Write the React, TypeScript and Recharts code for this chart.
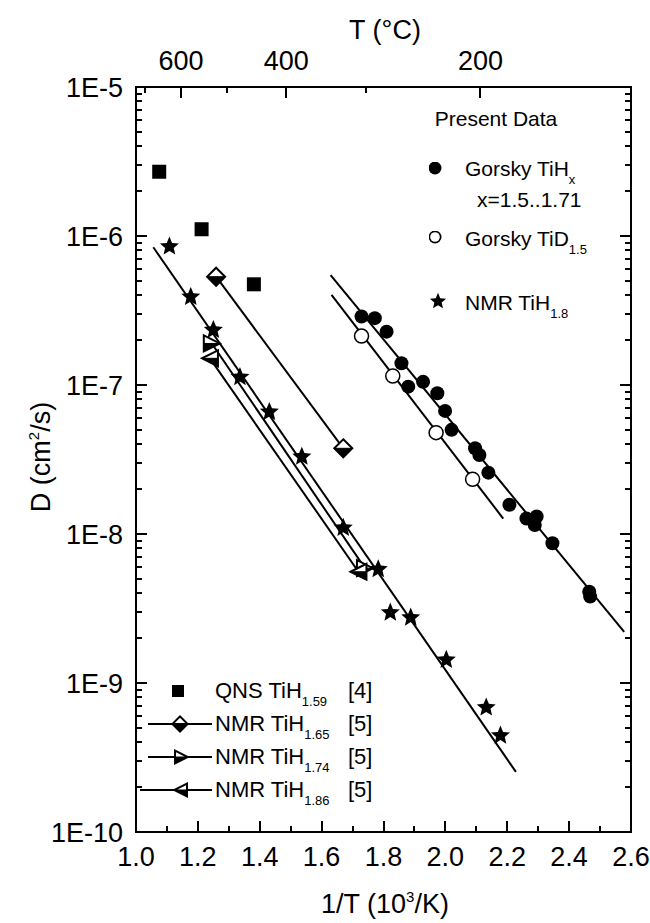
import React from 'react';
import { ScatterChart, Scatter, XAxis, YAxis } from 'recharts';

// ---- data ----
// QNS TiH1.59 [4]
const qnsX = [1.075, 1.212, 1.381];
const qnsD = [2.7e-6, 1.11e-6, 4.74e-7];

// NMR TiH1.8 (present data)
const nmr18X = [1.108, 1.177, 1.25, 1.336, 1.431, 1.536, 1.67, 1.783, 1.822, 1.888, 2.003, 2.132, 2.178];
const nmr18D = [8.5e-7, 3.9e-7, 2.34e-7, 1.13e-7, 6.6e-8, 3.3e-8, 1.1e-8, 5.8e-9, 2.97e-9, 2.75e-9, 1.43e-9, 6.85e-10, 4.44e-10];
const nmr18FitX = [1.056, 2.228];
const nmr18FitD = [8.4e-7, 2.53e-10];

// NMR [5]
const nmr165X = [1.259, 1.67];
const nmr165D = [5.33e-7, 3.76e-8];
const nmr174X = [1.245, 1.74];
const nmr174D = [1.9e-7, 5.9e-9];
const nmr186X = [1.239, 1.719];
const nmr186D = [1.51e-7, 5.58e-9];

// Gorsky TiHx, x=1.5..1.71
const tihX = [1.729, 1.772, 1.81, 1.858, 1.88, 1.928, 1.974, 1.999, 2.02, 2.096, 2.11, 2.139, 2.207, 2.262, 2.295, 2.289, 2.346, 2.465, 2.468];
const tihD = [2.88e-7, 2.81e-7, 2.28e-7, 1.4e-7, 9.75e-8, 1.05e-7, 8.8e-8, 6.7e-8, 5.0e-8, 3.76e-8, 3.39e-8, 2.58e-8, 1.57e-8, 1.27e-8, 1.31e-8, 1.15e-8, 8.67e-9, 4.1e-9, 3.8e-9];
const tihFitX = [1.629, 2.578];
const tihFitD = [5.47e-7, 2.2e-9];

// Gorsky TiD1.5
const tidX = [1.729, 1.83, 1.97, 2.088];
const tidD = [2.13e-7, 1.15e-7, 4.79e-8, 2.33e-8];
const tidFitX = [1.632, 2.187];
const tidFitD = [4.02e-7, 1.27e-8];

// axes
const xTicks = [1.0, 1.1, 1.2, 1.3, 1.4, 1.5, 1.6, 1.7, 1.8, 1.9, 2.0, 2.1, 2.2, 2.3, 2.4, 2.5, 2.6];
const tempTicksC = [700, 600, 500, 400, 300, 200];
const tempLabelsC = [600, 400, 200];
const decades = [-10, -9, -8, -7, -6, -5];
const yTickLabels = ['1E-10', '1E-9', '1E-8', '1E-7', '1E-6', '1E-5'];
const mantissas = [1, 2, 3, 4, 5, 6, 7, 8, 9];

const yTicks: number[] = [];
decades.forEach((e, i) => {
  if (i === decades.length - 1) yTicks.push(Math.pow(10, e));
  else mantissas.forEach((m) => yTicks.push(m * Math.pow(10, e)));
});
const topTicks = tempTicksC.map((t) => 1000 / (t + 273.15));

const pts = (xs: number[], ds: number[]) => xs.map((x, i) => ({ x, d: ds[i] }));

// layout
const W = 650;
const H = 923;
const MARGIN = { top: 47, right: 9, bottom: 51, left: 56 };
const PLOT_LEFT = 136;
const PLOT_RIGHT = 631;
const PLOT_TOP = 87;
const PLOT_BOTTOM = 832;
const FONT = '"Liberation Sans", Arial, Helvetica, sans-serif';
const TICK_FONT = 27;

const isDecade = (v: number) => {
  const l = Math.log10(v);
  return Math.abs(l - Math.round(l)) < 1e-6;
};

// same mapping as the chart's axes, for the html frame ticks
const xPx = (v: number) => PLOT_LEFT + ((v - 1.0) / 1.6) * (PLOT_RIGHT - PLOT_LEFT);
const yPx = (v: number) => PLOT_TOP + ((-5 - Math.log10(v)) / 5) * (PLOT_BOTTOM - PLOT_TOP);

// ---- chart markers (svg) ----
const starPoints = (cx: number, cy: number, R: number, r: number) => {
  const p: string[] = [];
  for (let i = 0; i < 10; i++) {
    const a = (-90 + i * 36) * (Math.PI / 180);
    const rad = i % 2 === 0 ? R : r;
    p.push(`${cx + rad * Math.cos(a)},${cy + rad * Math.sin(a)}`);
  }
  return p.join(' ');
};

const NoShape = () => <g />;
const StarShape = (p: any) => <polygon points={starPoints(p.cx, p.cy, 10, 4.5)} fill="#000" />;
const SquareShape = (p: any) => <rect x={p.cx - 7} y={p.cy - 7} width={14} height={14} fill="#000" />;
const DotShape = (p: any) => <circle cx={p.cx} cy={p.cy} r={7} fill="#000" />;
const OpenDotShape = (p: any) => <circle cx={p.cx} cy={p.cy} r={7} fill="#fff" stroke="#000" strokeWidth={1.5} />;
const DiamondShape = ({ cx, cy }: any) => {
  const s = 9;
  return (
    <g>
      <polygon points={`${cx},${cy - s} ${cx + s},${cy} ${cx},${cy + s} ${cx - s},${cy}`} fill="#fff" stroke="#000" strokeWidth={2} />
      <polygon points={`${cx - s},${cy} ${cx + s},${cy} ${cx},${cy + s}`} fill="#000" stroke="#000" strokeWidth={1} />
    </g>
  );
};
const TriRightShape = ({ cx, cy }: any) => {
  const s = 8;
  return (
    <g>
      <polygon points={`${cx - s},${cy - s} ${cx + s},${cy} ${cx - s},${cy + s}`} fill="#fff" stroke="#000" strokeWidth={2} />
      <polygon points={`${cx - s},${cy} ${cx + s},${cy} ${cx - s},${cy + s}`} fill="#000" stroke="#000" strokeWidth={1} />
    </g>
  );
};
const TriLeftShape = ({ cx, cy }: any) => {
  const s = 8;
  return (
    <g>
      <polygon points={`${cx + s},${cy - s} ${cx - s},${cy} ${cx + s},${cy + s}`} fill="#fff" stroke="#000" strokeWidth={2} />
      <polygon points={`${cx + s},${cy} ${cx - s},${cy} ${cx + s},${cy + s}`} fill="#000" stroke="#000" strokeWidth={1} />
    </g>
  );
};

// ---- tick labels from the axes ----
const LeftTick = (p: any) => {
  if (!isDecade(p.payload.value)) return <g />;
  const idx = decades.indexOf(Math.round(Math.log10(p.payload.value)));
  return (
    <text x={123} y={p.y + 10} textAnchor="end" fontSize={TICK_FONT} fontFamily={FONT} fill="#000">
      {yTickLabels[idx]}
    </text>
  );
};

const BottomTick = (p: any) => {
  if (Math.round(p.payload.value * 10) % 2 !== 0) return <g />;
  return (
    <text x={p.x} y={866} textAnchor="middle" fontSize={TICK_FONT} fontFamily={FONT} fill="#000">
      {p.payload.value.toFixed(1)}
    </text>
  );
};

const TopTick = (p: any) => {
  const t = Math.round(1000 / p.payload.value - 273.15);
  if (!tempLabelsC.includes(t)) return <g />;
  return (
    <text x={p.x} y={70} textAnchor="middle" fontSize={TICK_FONT} fontFamily={FONT} fill="#000">
      {t}
    </text>
  );
};

const fitLine = { stroke: '#000', strokeWidth: 2 };

// ---- html overlay: frame, tick marks, titles and legends ----
const Bar = ({ left, top, width, height }: any) => (
  <div style={{ position: 'absolute', left, top, width, height, background: '#000' }} />
);

const Frame = () => (
  <div style={{ position: 'absolute', left: 0, top: 0, width: W, height: H, pointerEvents: 'none' }}>
    <div
      style={{
        position: 'absolute',
        left: PLOT_LEFT - 1,
        top: PLOT_TOP - 1,
        width: PLOT_RIGHT - PLOT_LEFT + 2,
        height: PLOT_BOTTOM - PLOT_TOP + 2,
        border: '2px solid #000',
        boxSizing: 'border-box',
      }}
    />
    {yTicks.map((v) => {
      const len = isDecade(v) ? 11 : 6;
      const y = yPx(v);
      return (
        <React.Fragment key={`y${v}`}>
          <Bar left={PLOT_LEFT} top={y - 1} width={len} height={2} />
          <Bar left={PLOT_RIGHT - len} top={y - 1} width={len} height={2} />
        </React.Fragment>
      );
    })}
    {xTicks.map((v) => {
      const len = Math.round(v * 10) % 2 === 0 ? 11 : 6;
      return <Bar key={`x${v}`} left={xPx(v) - 1} top={PLOT_BOTTOM - len} width={2} height={len} />;
    })}
    {topTicks.map((v, i) => {
      const len = tempLabelsC.includes(tempTicksC[i]) ? 11 : 6;
      return <Bar key={`t${v}`} left={xPx(v) - 1} top={PLOT_TOP} width={2} height={len} />;
    })}
  </div>
);

const Txt = ({ x, y, size, anchor, rotate, children }: any) => {
  const base: React.CSSProperties = {
    position: 'absolute',
    fontFamily: FONT,
    fontSize: size,
    lineHeight: `${size}px`,
    whiteSpace: 'nowrap',
    color: '#000',
  };
  if (rotate) {
    return (
      <div style={{ ...base, left: x, top: y, transform: 'translate(-50%, -50%) rotate(-90deg)' }}>{children}</div>
    );
  }
  return (
    <div
      style={{
        ...base,
        left: x,
        top: y - 0.8465 * size,
        transform: anchor === 'middle' ? 'translateX(-50%)' : undefined,
      }}
    >
      {children}
    </div>
  );
};

const Sub = ({ children }: any) => (
  <span style={{ fontSize: 13, position: 'relative', top: 8, lineHeight: 0 }}>{children}</span>
);
const Sup = ({ children }: any) => (
  <span style={{ fontSize: 15, position: 'relative', top: -11, lineHeight: 0 }}>{children}</span>
);

const Mark = ({ x, y, w, h, clip, children }: any) => (
  <div style={{ position: 'absolute', left: x - w / 2, top: y - h / 2, width: w, height: h }}>
    <div style={{ position: 'absolute', inset: 0, background: '#000', clipPath: clip }} />
    {children}
  </div>
);
const Inner = ({ clip }: any) => (
  <div style={{ position: 'absolute', inset: 0, background: '#fff', clipPath: clip }} />
);

const starClip = () => {
  const p: string[] = [];
  for (let i = 0; i < 10; i++) {
    const a = (-90 + i * 36) * (Math.PI / 180);
    const rad = i % 2 === 0 ? 50 : 22.5;
    p.push(`${50 + rad * Math.cos(a)}% ${52 + rad * Math.sin(a)}%`);
  }
  return `polygon(${p.join(', ')})`;
};

const Rule = ({ x1, x2, y }: any) => (
  <div style={{ position: 'absolute', left: x1, top: y - 1, width: x2 - x1, height: 2, background: '#000' }} />
);

const Overlay = () => (
  <div style={{ position: 'absolute', left: 0, top: 0, width: W, height: H, pointerEvents: 'none' }}>
    <Txt x={385} y={40} size={TICK_FONT} anchor="middle">T (°C)</Txt>
    <Txt x={385} y={914} size={TICK_FONT} anchor="middle">
      1/T (10<Sup>3</Sup>/K)
    </Txt>
    <Txt x={41} y={457} size={TICK_FONT} rotate>
      D (cm<Sup>2</Sup>/s)
    </Txt>

    {/* present data legend */}
    <Txt x={496} y={126} size={21} anchor="middle">Present Data</Txt>
    <Mark x={435} y={168} w={13} h={13} clip="circle(50%)" />
    <Txt x={465} y={176} size={21}>
      Gorsky TiH<Sub>x</Sub>
    </Txt>
    <Txt x={477} y={207} size={21}>x=1.5..1.71</Txt>
    <Mark x={435} y={237} w={13} h={13} clip="circle(50%)">
      <Inner clip="circle(4.8px)" />
    </Mark>
    <Txt x={465} y={246} size={21}>
      Gorsky TiD<Sub>1.5</Sub>
    </Txt>
    <Mark x={438} y={301} w={17} h={17} clip={starClip()} />
    <Txt x={465} y={310} size={21}>
      NMR TiH<Sub>1.8</Sub>
    </Txt>

    {/* literature legend */}
    <Mark x={178} y={691} w={12} h={12} />
    <Txt x={215} y={699} size={22}>
      QNS TiH<Sub>1.59</Sub>
    </Txt>
    <Txt x={348} y={699} size={22}>[4]</Txt>

    <Rule x1={148} x2={212} y={724} />
    <Mark x={180} y={724} w={18} h={18} clip="polygon(50% 0, 100% 50%, 50% 100%, 0 50%)">
      <Inner clip="polygon(9px 2.8px, 14.2px 8px, 3.8px 8px)" />
    </Mark>
    <Txt x={215} y={732} size={22}>
      NMR TiH<Sub>1.65</Sub>
    </Txt>
    <Txt x={348} y={732} size={22}>[5]</Txt>

    <Rule x1={148} x2={212} y={757} />
    <Mark x={182} y={757} w={16} h={16} clip="polygon(0 0, 100% 50%, 0 100%)">
      <Inner clip="polygon(2px 3.2px, 10.5px 7.5px, 2px 7.5px)" />
    </Mark>
    <Txt x={215} y={765} size={22}>
      NMR TiH<Sub>1.74</Sub>
    </Txt>
    <Txt x={348} y={765} size={22}>[5]</Txt>

    <Rule x1={140} x2={212} y={790} />
    <Mark x={180} y={790} w={16} h={16} clip="polygon(100% 0, 0 50%, 100% 100%)">
      <Inner clip="polygon(14px 3.2px, 5.5px 7.5px, 14px 7.5px)" />
    </Mark>
    <Txt x={215} y={798} size={22}>
      NMR TiH<Sub>1.86</Sub>
    </Txt>
    <Txt x={348} y={798} size={22}>[5]</Txt>
  </div>
);

export default function App() {
  return (
    <div style={{ position: 'absolute', left: 0, top: 0, width: W, height: H }}>
      <ScatterChart width={W} height={H} margin={MARGIN}>
        <XAxis xAxisId="bottom" dataKey="x" type="number" domain={[1.0, 2.6]} ticks={xTicks} interval={0} height={40}
          axisLine={false} tickLine={false} tick={BottomTick} allowDataOverflow />
        <XAxis xAxisId="top" dataKey="x" orientation="top" type="number" domain={[1.0, 2.6]} ticks={topTicks} interval={0} height={40}
          axisLine={false} tickLine={false} tick={TopTick} allowDataOverflow />
        <YAxis yAxisId="left" dataKey="d" type="number" scale="log" domain={[1e-10, 1e-5]} ticks={yTicks} interval={0} width={80}
          axisLine={false} tickLine={false} tick={LeftTick} allowDataOverflow />
        <YAxis yAxisId="right" dataKey="d" orientation="right" type="number" scale="log" domain={[1e-10, 1e-5]} width={10}
          axisLine={false} tickLine={false} tick={false} allowDataOverflow />

        {/* keeps the top / right axes registered */}
        <Scatter xAxisId="top" yAxisId="right" data={pts(qnsX, qnsD)} shape={NoShape} isAnimationActive={false} />

        {/* fit lines */}
        <Scatter xAxisId="bottom" yAxisId="left" data={pts(nmr18FitX, nmr18FitD)} line={fitLine} shape={NoShape} isAnimationActive={false} />
        <Scatter xAxisId="bottom" yAxisId="left" data={pts(tihFitX, tihFitD)} line={fitLine} shape={NoShape} isAnimationActive={false} />
        <Scatter xAxisId="bottom" yAxisId="left" data={pts(tidFitX, tidFitD)} line={fitLine} shape={NoShape} isAnimationActive={false} />

        {/* NMR [5] */}
        <Scatter xAxisId="bottom" yAxisId="left" data={pts(nmr165X, nmr165D)} line={fitLine} shape={DiamondShape} isAnimationActive={false} />
        <Scatter xAxisId="bottom" yAxisId="left" data={pts(nmr174X, nmr174D)} line={fitLine} shape={TriRightShape} isAnimationActive={false} />
        <Scatter xAxisId="bottom" yAxisId="left" data={pts(nmr186X, nmr186D)} line={fitLine} shape={TriLeftShape} isAnimationActive={false} />

        {/* points */}
        <Scatter xAxisId="bottom" yAxisId="left" data={pts(qnsX, qnsD)} shape={SquareShape} isAnimationActive={false} />
        <Scatter xAxisId="bottom" yAxisId="left" data={pts(nmr18X, nmr18D)} shape={StarShape} isAnimationActive={false} />
        <Scatter xAxisId="bottom" yAxisId="left" data={pts(tihX, tihD)} shape={DotShape} isAnimationActive={false} />
        <Scatter xAxisId="bottom" yAxisId="left" data={pts(tidX, tidD)} shape={OpenDotShape} isAnimationActive={false} />
      </ScatterChart>
      <Frame />
      <Overlay />
    </div>
  );
}
